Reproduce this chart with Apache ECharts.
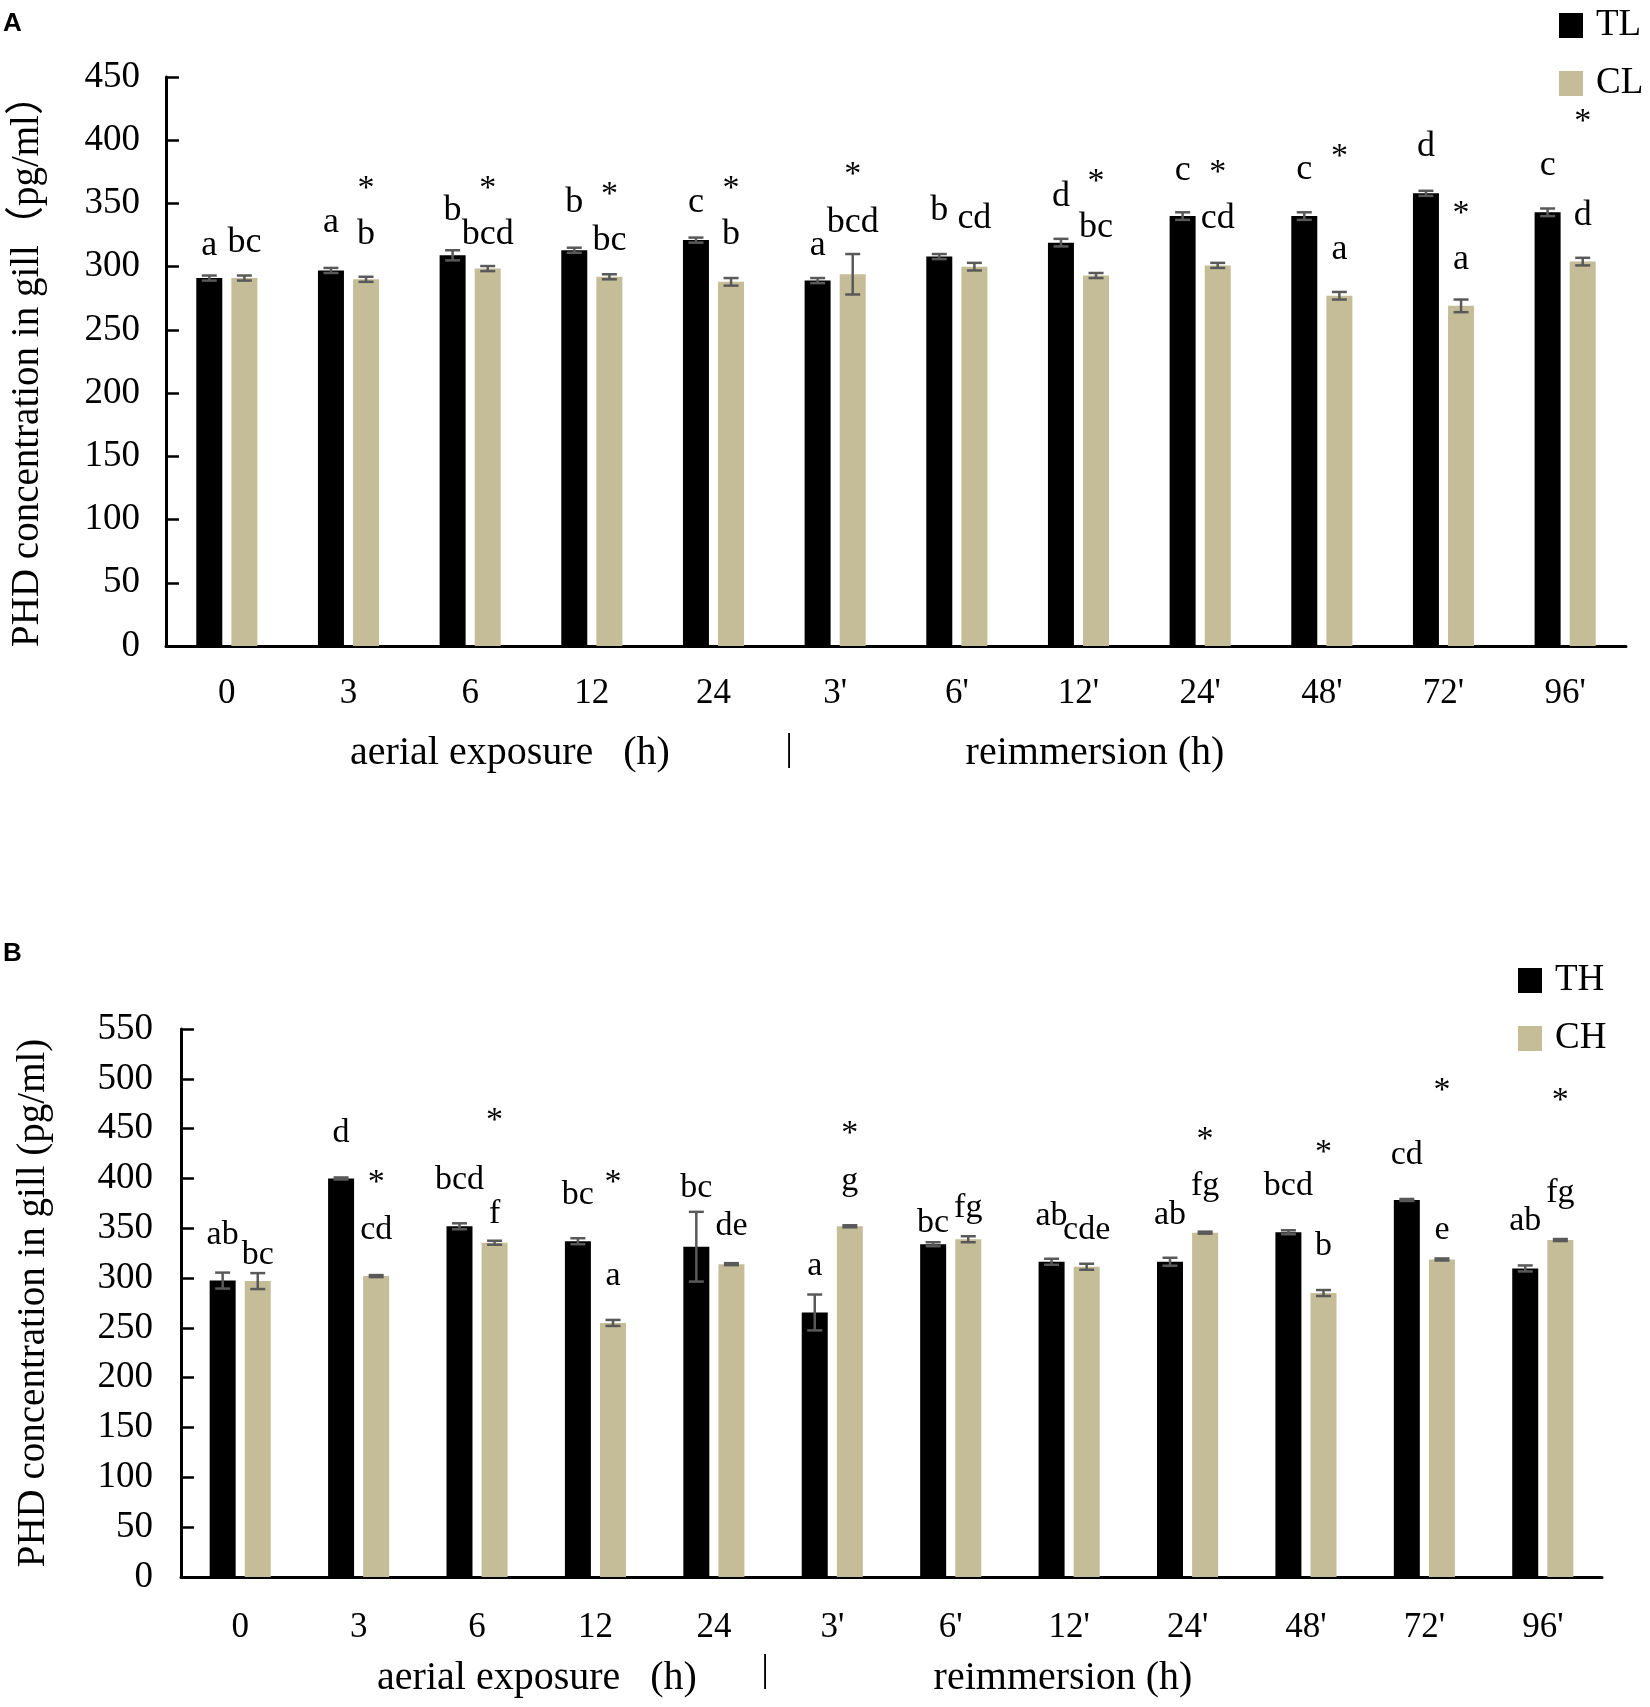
<!DOCTYPE html>
<html lang="en">
<head>
<meta charset="UTF-8">
<title>PHD concentration in gill</title>
<script src="https://cdn.jsdelivr.net/npm/echarts@6/dist/echarts.min.js"></script>
<style>
html, body { margin: 0; padding: 0; background: #fff; }
#main { width: 1650px; height: 1707px; }
</style>
</head>
<body>
<div id="main"></div>
<script>
var cats = ['0', '3', '6', '12', '24', "3'", "6'", "12'", "24'", "48'", "72'", "96'"];

// panel A: low temperature
var tlVals = [291, 297, 309, 313, 321, 289, 308, 319, 340, 340, 358, 343];
var tlErr = [2, 2, 4, 2, 2, 2, 2, 3, 3, 3, 2, 3];
var clVals = [291, 290, 298.5, 292, 288, 294, 300, 293, 301, 277, 269, 304];
var clErr = [2, 2, 2, 2, 3, 16, 3, 2, 2, 3, 5, 3];
var tlLetters = ['a', 'a', 'b', 'b', 'c', 'a', 'b', 'd', 'c', 'c', 'd', 'c'];
var clLetters = ['bc', 'b', 'bcd', 'bc', 'b', 'bcd', 'cd', 'bc', 'cd', 'a', 'a', 'd'];
var tlLetterY = [307, 325, 335, 341, 341, 307, 335, 346, 366, 367, 385, 370];
var clLetterY = [309, 316, 316, 311, 316, 325, 328, 321, 328, 304, 296, 331];
var clStarY = [null, 366, 366, 361, 366, 377, null, 371, 378, 391, 346, 419];

// panel B: high temperature
var thVals = [297.5, 400, 352, 337, 331.5, 265.5, 334, 316.4, 316.4, 346, 378.4, 309.7];
var thErr = [8, 1, 3, 3, 35, 18, 2, 3, 4, 2, 1, 3];
var chVals = [297, 302, 335.5, 255, 314, 352, 339, 311.4, 345.6, 285, 318.7, 338.2];
var chErr = [8, 1, 2, 3, 1, 1, 3, 3, 1, 3, 1, 1];
var thLetters = ['ab', 'd', 'bcd', 'bc', 'bc', 'a', 'bc', 'ab', 'ab', 'bcd', 'cd', 'ab'];
var chLetters = ['bc', 'cd', 'f', 'a', 'de', 'g', 'fg', 'cde', 'fg', 'b', 'e', 'fg'];
var thLetterY = [332, 434, 387, 372, 379, 300, 344, 351, 352, 381, 412, 346];
var chLetterY = [311, 337, 353, 290, 341, 386, 359, 337, 381, 321, 337, 374];
var chStarY = [null, 401, 463, 401, null, 450, null, null, 444, 431, 493, 483];

var SERIF = "'Liberation Serif', 'Times New Roman', 'Noto Sans CJK SC', serif";
var BAR_W = 26;
var BAR_GAP = 0.35;
var OFF = BAR_W * (1 + BAR_GAP) / 2;
var TAN = '#C4BD97';
var ERR = '#595959';

function errRender(off) {
    return function (params, api) {
        var i = api.value(0), v = api.value(1), e = api.value(2);
        var top = api.coord([i, v + e]);
        var bot = api.coord([i, v - e]);
        var x = top[0] + off;
        var hw = 7.5;
        var st = { stroke: ERR, lineWidth: 2.5 };
        return {
            type: 'group',
            children: [
                { type: 'line', shape: { x1: x, y1: top[1], x2: x, y2: bot[1] }, style: st },
                { type: 'line', shape: { x1: x - hw, y1: top[1], x2: x + hw, y2: top[1] }, style: st },
                { type: 'line', shape: { x1: x - hw, y1: bot[1], x2: x + hw, y2: bot[1] }, style: st }
            ]
        };
    };
}

function textRender(off, labels, fs, valign) {
    return function (params, api) {
        var p = api.coord([api.value(0), api.value(1)]);
        return {
            type: 'text',
            x: p[0] + off,
            y: p[1] + fs * 0.16,
            style: {
                text: labels[params.dataIndex],
                fill: '#000',
                fontSize: fs,
                fontFamily: SERIF,
                align: 'center',
                verticalAlign: valign
            }
        };
    };
}

function pairs(ys) {
    var out = [];
    ys.forEach(function (y, i) { if (y !== null) out.push([i, y]); });
    return out;
}

function starLabels(ys) {
    return pairs(ys).map(function () { return '*'; });
}

function panelSeries(g, names, vals, errs, letters, letterY, starY, fsLetter) {
    var x = { xAxisIndex: g, yAxisIndex: g };
    return [
        Object.assign({ type: 'bar', name: names[0], data: vals[0], barWidth: BAR_W, barGap: (BAR_GAP * 100) + '%',
            itemStyle: { color: '#000' } }, x),
        Object.assign({ type: 'bar', name: names[1], data: vals[1], barWidth: BAR_W, barGap: (BAR_GAP * 100) + '%',
            itemStyle: { color: TAN } }, x),
        Object.assign({ type: 'custom', renderItem: errRender(-OFF), z: 5,
            data: cats.map(function (c, i) { return [i, vals[0][i], errs[0][i]]; }) }, x),
        Object.assign({ type: 'custom', renderItem: errRender(OFF), z: 5,
            data: cats.map(function (c, i) { return [i, vals[1][i], errs[1][i]]; }) }, x),
        Object.assign({ type: 'custom', renderItem: textRender(-OFF, letters[0], fsLetter, 'bottom'), z: 6,
            data: cats.map(function (c, i) { return [i, letterY[0][i]]; }) }, x),
        Object.assign({ type: 'custom', renderItem: textRender(OFF, letters[1], fsLetter, 'bottom'), z: 6,
            data: cats.map(function (c, i) { return [i, letterY[1][i]]; }) }, x),
        Object.assign({ type: 'custom', renderItem: textRender(OFF, starLabels(starY), 34, 'middle'), z: 6,
            data: pairs(starY) }, x)
    ];
}

function xAxisCfg(g, margin) {
    return {
        type: 'category', gridIndex: g, data: cats,
        axisLine: { lineStyle: { color: '#000', width: 3 } },
        axisTick: { show: false },
        axisLabel: { color: '#000', fontSize: 35, fontFamily: SERIF, margin: margin }
    };
}

function yAxisCfg(g, max, name, gap, margin) {
    return {
        type: 'value', gridIndex: g, min: 0, max: max, interval: 50,
        name: name, nameLocation: 'middle', nameGap: gap, nameRotate: 90,
        nameTextStyle: { color: '#000', fontSize: 39, fontFamily: SERIF },
        axisLine: { show: true, lineStyle: { color: '#000', width: 3 } },
        axisTick: { show: true, inside: true, length: 13, lineStyle: { color: '#000', width: 2.5 } },
        axisLabel: { color: '#000', fontSize: 37, fontFamily: SERIF, margin: margin },
        splitLine: { show: false }
    };
}

function legendCfg(names, left, top) {
    return {
        data: names, orient: 'vertical', left: left, top: top,
        icon: 'rect', itemWidth: 24, itemHeight: 25, itemGap: 21,
        textStyle: { color: '#000', fontSize: 37, fontFamily: SERIF, padding: [0, 0, 0, 8] }
    };
}

function txt(text, x, y, fs) {
    return {
        type: 'text', x: x, y: y,
        style: { text: text, fill: '#000', fontSize: fs, fontFamily: SERIF,
            align: 'center', verticalAlign: 'middle' }
    };
}

function panelTag(text, top) {
    return {
        text: text, left: 3, top: top, padding: 0,
        textStyle: { color: '#000', fontSize: 26, fontWeight: 'bold', fontFamily: "'Liberation Sans', Arial, sans-serif" }
    };
}

var chart = echarts.init(document.getElementById('main'));
var option = {
    animation: false,
    backgroundColor: '#fff',
    title: [panelTag('A', 11), panelTag('B', 941)],
    grid: [
        { left: 163, right: 24, top: 77, bottom: 1061, containLabel: false },
        { left: 181, right: 48, top: 1029, bottom: 130, containLabel: false }
    ],
    xAxis: [xAxisCfg(0, 30), xAxisCfg(1, 33)],
    yAxis: [
        yAxisCfg(0, 450, 'PHD concentration in gill（pg/ml）', 119, 26),
        yAxisCfg(1, 550, 'PHD concentration in gill (pg/ml)', 128, 28)
    ],
    legend: [legendCfg(['TL', 'CL'], 1554, 2), legendCfg(['TH', 'CH'], 1513, 957)],
    graphic: [
        txt('aerial exposure   (h)', 510, 753, 40),
        txt('|', 789, 750, 38),
        txt('reimmersion (h)', 1095, 753, 40),
        txt('aerial exposure   (h)', 537, 1678, 40),
        txt('|', 765, 1671, 38),
        txt('reimmersion (h)', 1063, 1678, 40)
    ],
    series: [].concat(
        panelSeries(0, ['TL', 'CL'], [tlVals, clVals], [tlErr, clErr], [tlLetters, clLetters], [tlLetterY, clLetterY], clStarY, 36),
        panelSeries(1, ['TH', 'CH'], [thVals, chVals], [thErr, chErr], [thLetters, chLetters], [thLetterY, chLetterY], chStarY, 34)
    )
};
chart.setOption(option);
</script>
</body>
</html>
